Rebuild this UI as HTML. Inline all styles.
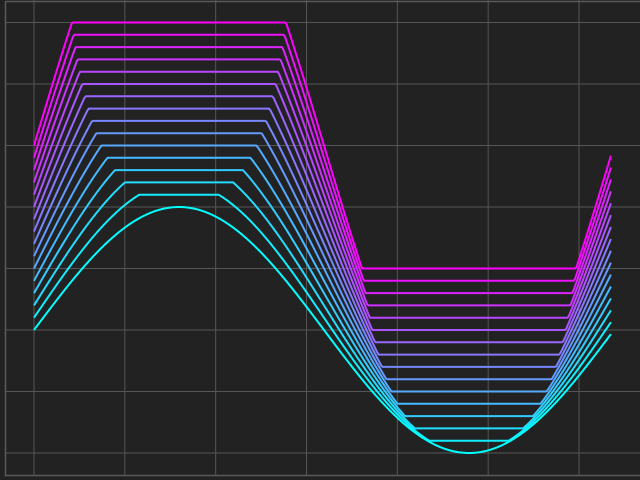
<!DOCTYPE html>
<html><head><meta charset="utf-8"><style>
html,body{margin:0;padding:0;background:#222222;}
svg{display:block;}
</style></head><body>
<svg id="chart" width="640" height="480">
<rect x="0" y="0" width="640" height="480" fill="#222222"/>
<g id="grid"></g>
<g id="lines"></g>
<path d="M5.5,1.5 H640 M5.5,1 V475.5 H640" fill="none" stroke="#595959" stroke-width="1.5"/>
</svg>
<script>
const gains = [1.0,1.1,1.2,1.3,1.4,1.5,1.6,1.7,1.8,1.9,2.0,2.1,2.2,2.3,2.4,2.5];
const offsets = [0,0.1,0.2,0.3,0.4,0.5,0.6,0.7,0.8,0.9,1.0,1.1,1.2,1.3,1.4,1.5];
const xTicks = [0,1,2,3,4,5,6];
const yTicks = [-1,-0.5,0,0.5,1,1.5,2,2.5];
const xMax = 6.25;

const gx = v => 34 + v * (545 / 6);
const sx = v => 34 + v * (580 / (2 * Math.PI));
const sy = v => 330 - v * 123;
const NS = 'http://www.w3.org/2000/svg';
const grid = document.getElementById('grid');
xTicks.forEach(t => {
  const l = document.createElementNS(NS, 'line');
  l.setAttribute('x1', gx(t)); l.setAttribute('x2', gx(t));
  l.setAttribute('y1', 0); l.setAttribute('y2', 475);
  l.setAttribute('stroke', '#555'); l.setAttribute('stroke-width', '1');
  
  
  grid.appendChild(l);
});
yTicks.forEach(t => {
  const l = document.createElementNS(NS, 'line');
  l.setAttribute('x1', 5); l.setAttribute('x2', 640);
  l.setAttribute('y1', sy(t)); l.setAttribute('y2', sy(t));
  l.setAttribute('stroke', '#555'); l.setAttribute('stroke-width', '1');
  
  
  grid.appendChild(l);
});
const lines = document.getElementById('lines');
const n = gains.length;
for (let i = n - 1; i >= 0; i--) {
  const f = n > 1 ? i / (n - 1) : 0;
  const r = Math.round(255 * f), g = Math.round(255 * (1 - f));
  let d = '';
  const N = 400;
  for (let k = 0; k <= N; k++) {
    const x = xMax * k / N;
    let v = gains[i] * Math.sin(x);
    v = Math.max(-1, Math.min(1, v)) + offsets[i];
    d += (k ? 'L' : 'M') + sx(x).toFixed(2) + ',' + sy(v).toFixed(2);
  }
  const p = document.createElementNS(NS, 'path');
  p.setAttribute('d', d);
  p.setAttribute('fill', 'none');
  p.setAttribute('stroke', `rgb(${r},${g},255)`);
  p.setAttribute('stroke-width', '2');
  p.setAttribute('stroke-linejoin', 'round');
  
  
  lines.appendChild(p);
}
</script>
</body></html>
